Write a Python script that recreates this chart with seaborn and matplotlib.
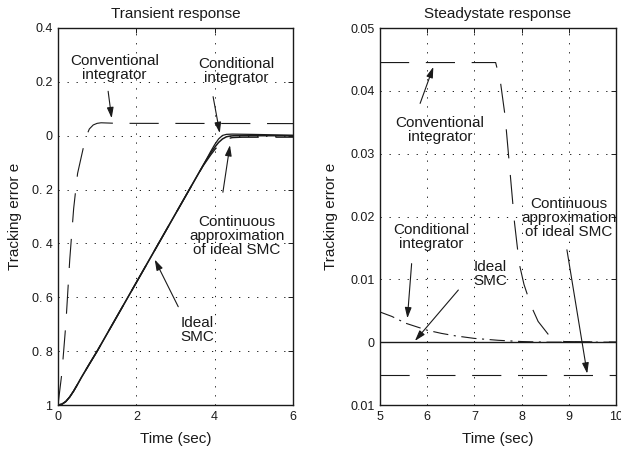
import matplotlib
matplotlib.use("Agg")
import matplotlib.pyplot as plt
import seaborn as sns
import pandas as pd

# ---------------- data ----------------
# Transient response (left)
t_conv_L = [0, 0.1, 0.2, 0.3, 0.4, 0.5, 0.6, 0.7, 0.8, 0.9, 1.0, 1.1, 1.5, 6]
e_conv_L = [-1, -0.88, -0.70, -0.46, -0.27, -0.14, -0.075, -0.01, 0.025, 0.040, 0.046, 0.048, 0.046, 0.045]

t_ideal_L = [0, 0.1, 0.2, 0.3, 0.4, 0.5, 0.6, 0.8, 1.0, 1.5, 2.0, 2.5, 3.0, 3.5, 3.7,
             3.8, 3.9, 4.0, 4.1, 4.2, 4.3, 4.4, 4.5, 6]
e_ideal_L = [-1, -0.997, -0.987, -0.970, -0.948, -0.923, -0.897, -0.848, -0.800, -0.6725, -0.545,
             -0.4175, -0.290, -0.1625, -0.1115, -0.087, -0.064, -0.043, -0.025, -0.012, -0.004,
             -0.001, 0, 0]

t_cond_L = [0, 0.1, 0.2, 0.3, 0.4, 0.5, 0.6, 0.8, 1.0, 1.5, 2.0, 2.5, 3.0, 3.5, 3.7,
            3.8, 3.9, 4.0, 4.1, 4.2, 4.3, 4.45, 5.0, 6]
e_cond_L = [-1, -0.997, -0.987, -0.970, -0.948, -0.923, -0.897, -0.848, -0.800, -0.6725, -0.545,
            -0.4175, -0.290, -0.1625, -0.1115, -0.085, -0.058, -0.033, -0.012, 0.001, 0.005,
            0.006, 0.0048, 0.0019]

t_cont_L = [0, 0.1, 0.2, 0.3, 0.4, 0.5, 0.6, 0.8, 1.0, 1.5, 2.0, 2.5, 3.0, 3.5, 3.7,
            3.8, 3.9, 4.0, 4.1, 4.2, 4.3, 4.45, 4.7, 6]
e_cont_L = [-1, -0.997, -0.987, -0.970, -0.948, -0.923, -0.897, -0.848, -0.800, -0.6725, -0.545,
            -0.4175, -0.290, -0.1625, -0.113, -0.092, -0.071, -0.052, -0.035, -0.021, -0.012,
            -0.007, -0.0055, -0.0053]

# Steady-state response (right)
t_conv_R = [5, 7.45, 7.55, 7.65, 7.75, 7.85, 7.95, 8.05, 8.2, 8.35, 8.6, 8.9, 10]
e_conv_R = [0.0445, 0.0445, 0.0415, 0.036, 0.0275, 0.019, 0.0125, 0.0092, 0.0058, 0.0033, 0.0009, 0.0001, 0]

t_cond_R = [5, 5.25, 5.55, 6.0, 6.3, 6.6, 7.0, 7.5, 8.0, 8.5, 10]
e_cond_R = [0.0048, 0.0041, 0.0030, 0.0019, 0.0014, 0.0010, 0.0006, 0.0003, 0.0001, 0, 0]

t_ideal_R = [5, 10]
e_ideal_R = [0, 0]

t_cont_R = [5, 10]
e_cont_R = [-0.0053, -0.0053]

# ticks / labels
xticks_L = [0, 2, 4, 6]
yticks_L = [-1, -0.8, -0.6, -0.4, -0.2, 0, 0.2, 0.4]
yticklabels_L = ["1", "0. 8", "0. 6", "0. 4", "0. 2", "0", "0.2", "0.4"]
xticks_R = [5, 6, 7, 8, 9, 10]
yticks_R = [-0.01, 0, 0.01, 0.02, 0.03, 0.04, 0.05]
yticklabels_R = ["0.01", "0", "0.01", "0.02", "0.03", "0.04", "0.05"]

# ---------------- style ----------------
sns.set_theme(style="white")
plt.rcParams["font.family"] = ["Liberation Sans", "DejaVu Sans"]
plt.rcParams["lines.scale_dashes"] = False
plt.rcParams["axes.edgecolor"] = "k"
plt.rcParams["axes.linewidth"] = 1.0
plt.rcParams["text.color"] = "k"
plt.rcParams["axes.labelcolor"] = "k"

DASH = (0, (21, 12))
DASHDOT = (0, (11, 4, 1.5, 4))
GRID = (0, (0.9, 5.6))

fig = plt.figure(figsize=(6.21, 4.55), dpi=100)
axL = fig.add_axes([58 / 621, 50 / 455, 235 / 621, 377 / 455])
axR = fig.add_axes([380 / 621, 50 / 455, 236 / 621, 377 / 455])


def draw(ax, t, e, ls, lw):
    df = pd.DataFrame({"t": t, "e": e})
    sns.lineplot(data=df, x="t", y="e", ax=ax, color="k", lw=lw,
                 sort=False, estimator=None)
    ax.lines[-1].set_linestyle(ls)


draw(axL, t_conv_L, e_conv_L, DASH, 0.8)
draw(axL, t_cond_L, e_cond_L, "-", 0.9)
draw(axL, t_cont_L, e_cont_L, DASH, 1.0)
draw(axL, t_ideal_L, e_ideal_L, "-", 1.1)

draw(axR, t_conv_R, e_conv_R, DASH, 0.8)
draw(axR, t_cond_R, e_cond_R, DASHDOT, 0.8)
draw(axR, t_cont_R, e_cont_R, DASH, 0.8)
draw(axR, t_ideal_R, e_ideal_R, "-", 1.0)

for ax, xt, yt, ytl, xl, yl, title in [
    (axL, xticks_L, yticks_L, yticklabels_L, (0, 6), (-1, 0.4), "Transient response"),
    (axR, xticks_R, yticks_R, yticklabels_R, (5, 10), (-0.01, 0.05), "Steadystate response"),
]:
    ax.set_xlim(*xl)
    ax.set_ylim(*yl)
    ax.set_xticks(xt)
    ax.set_xticklabels([str(v) for v in xt])
    ax.set_yticks(yt)
    ax.set_yticklabels(ytl)
    ax.grid(True, color="k", linestyle=GRID, linewidth=0.7)
    ax.set_axisbelow(True)
    ax.tick_params(direction="in", length=3.5, width=0.7, top=True, right=True,
                   labelsize=9, pad=4, colors="k")
    for s in ax.spines.values():
        s.set_visible(True)
        s.set_color("k")
        s.set_linewidth(1.0)
    ax.set_title(title, fontsize=11, pad=7)
    ax.set_xlabel("Time (sec)", fontsize=11)
    ax.set_ylabel("Tracking error e", fontsize=11)

axL.yaxis.set_label_coords(-0.155, 0.5)
axR.yaxis.set_label_coords(-0.178, 0.5)
axL.xaxis.set_label_coords(0.5, -0.072)
axR.xaxis.set_label_coords(0.5, -0.072)

ARROW = dict(arrowstyle="-|>,head_length=0.8,head_width=0.25", color="k", lw=0.8,
             mutation_scale=8, shrinkA=0, shrinkB=0)


def note(ax, text, pos, tail, tip):
    ax.text(pos[0], pos[1], text, ha="center", va="center", fontsize=11,
            linespacing=1.0, multialignment="center")
    ax.annotate("", xy=tip, xytext=tail, arrowprops=ARROW)


note(axL, "Conventional\nintegrator", (1.44, 0.25), (1.28, 0.165), (1.37, 0.065))
note(axL, "Conditional\nintegrator", (4.56, 0.24), (3.96, 0.145), (4.13, 0.01))
note(axL, "Continuous\napproximation\nof ideal SMC", (4.56, -0.372), (4.21, -0.21), (4.39, -0.035))
note(axL, "Ideal\nSMC", (3.56, -0.72), (3.07, -0.635), (2.47, -0.46))

note(axR, "Conventional\nintegrator", (6.27, 0.0338), (5.85, 0.038), (6.13, 0.0438))
note(axR, "Conditional\nintegrator", (6.08, 0.0168), (5.67, 0.0125), (5.58, 0.0038))
note(axR, "Ideal\nSMC", (7.33, 0.0108), (6.66, 0.0083), (5.74, 0.0002))
note(axR, "Continuous\napproximation\nof ideal SMC", (9.0, 0.0198), (8.96, 0.0147), (9.39, -0.0050))

fig.savefig("out.png", dpi=100)
